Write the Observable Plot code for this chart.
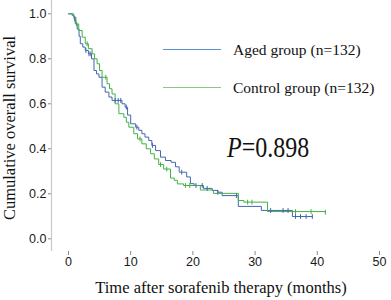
<!DOCTYPE html>
<html>
<head>
<meta charset="utf-8">
<script src="https://cdn.jsdelivr.net/npm/d3@7"></script>
<script src="https://cdn.jsdelivr.net/npm/@observablehq/plot@0.6"></script>
<style>
  html, body { margin: 0; padding: 0; background: #fff; }
  #wrap { position: relative; width: 391px; height: 300px; overflow: hidden; }
  .ov { position: absolute; white-space: nowrap; font-family: "Liberation Serif", "Times New Roman", serif; color: #111; line-height: 1; }
  .lg { position: absolute; height: 0; }
</style>
</head>
<body>
<div id="wrap"></div>
<script>
// ---- Data ----
const groups = ["Aged group (n=132)", "Control group (n=132)"];

const agedTime = [0, 0.6, 0.9, 1.1, 1.4, 1.7, 1.9, 2.3, 2.7, 3.2, 3.7, 4.1, 4.5, 4.9, 5.4, 5.9, 6.5, 7.0, 8.6, 9.1, 9.5, 10.0, 10.8, 11.3, 11.8, 12.3, 12.9, 13.4, 14.0, 14.8, 15.6, 16.5, 17.2, 17.8, 19.0, 19.6, 20.2, 21.7, 23.1, 24.0, 24.7, 27.3, 31.0, 36.0, 39.2];
const agedSurv = [1.0, 0.992, 0.977, 0.955, 0.932, 0.90, 0.867, 0.852, 0.837, 0.822, 0.80, 0.748, 0.733, 0.718, 0.674, 0.652, 0.63, 0.615, 0.60, 0.585, 0.55, 0.511, 0.496, 0.482, 0.467, 0.452, 0.437, 0.415, 0.392, 0.363, 0.348, 0.34, 0.32, 0.296, 0.275, 0.245, 0.237, 0.224, 0.215, 0.207, 0.192, 0.144, 0.126, 0.099, 0.099];

const controlTime = [0, 0.85, 1.2, 1.65, 2.2, 2.7, 3.2, 3.8, 4.2, 4.6, 5.0, 5.4, 6.2, 6.6, 7.0, 7.5, 8.1, 8.9, 9.3, 9.7, 10.5, 11.1, 11.8, 12.5, 13.2, 13.8, 14.5, 15.3, 16.4, 17.0, 17.5, 18.5, 21.2, 23.3, 27.3, 28.2, 32.0, 41.3];
const controlSurv = [1.0, 0.985, 0.955, 0.926, 0.896, 0.867, 0.845, 0.822, 0.80, 0.778, 0.748, 0.718, 0.689, 0.667, 0.644, 0.60, 0.556, 0.54, 0.518, 0.496, 0.467, 0.444, 0.422, 0.40, 0.378, 0.355, 0.33, 0.31, 0.27, 0.26, 0.244, 0.237, 0.217, 0.202, 0.17, 0.163, 0.121, 0.118];

const agedCensor = [1.0, 2.8, 3.3, 3.6, 7.5, 8.0, 8.4, 9.3, 11.0, 13.5, 18.2, 20.5, 21.5, 22.3, 24.0, 27.0, 32.5, 34.5, 35.3, 36.5, 37.3, 38.2, 39.2];
const controlCensor = [1.3, 3.0, 6.0, 11.5, 14.8, 15.8, 18.8, 19.5, 28.8, 29.5, 36.5, 39.0, 41.3];

const xTicks = [0, 10, 20, 30, 40, 50];
const yTicks = [0, 0.2, 0.4, 0.6, 0.8, 1.0];
const pText = "0.898";

// ---- Build tables ----
const agedColor = "#4466b0", controlColor = "#44b044";
const curve = (T, S, g) => T.map((t, i) => ({t, s: S[i], g}));
const stepAt = (T, S, t) => { let v = S[0]; for (let i = 0; i < T.length; i++) if (T[i] <= t) v = S[i]; return v; };
const lines = [...curve(agedTime, agedSurv, groups[0]), ...curve(controlTime, controlSurv, groups[1])];
const censors = [
  ...agedCensor.map(t => ({t, s: stepAt(agedTime, agedSurv, t), g: groups[0]})),
  ...controlCensor.map(t => ({t, s: stepAt(controlTime, controlSurv, t), g: groups[1]}))
];
const vbar = { draw(ctx, size) { const r = Math.sqrt(size / Math.PI); ctx.moveTo(0, -r); ctx.lineTo(0, r); } };
const xDomain = [-2.73, 50];

const chart = Plot.plot({
  width: 391,
  height: 300,
  marginLeft: 51,
  marginRight: 12,
  marginTop: 0,
  marginBottom: 49,
  style: { fontFamily: "'Liberation Sans', Arial, sans-serif", fontSize: "12.5px", color: "#1a1a1a", background: "#fff" },
  x: { domain: xDomain, ticks: xTicks, tickSize: 4, tickPadding: 2, label: null, tickFormat: d3.format("d") },
  y: { domain: [0, 1], range: [238.3, 13.3], ticks: yTicks, tickSize: 3, tickPadding: 2, label: null, tickFormat: d3.format(".1f") },
  color: { domain: groups, range: [agedColor, controlColor] },
  marks: [
    Plot.ruleX([xDomain[0]], { stroke: "#c8c8c8", strokeWidth: 1.2 }),
    Plot.line(lines, { x: "t", y: "s", z: "g", stroke: "g", curve: "step-after", strokeWidth: 1 }),
    Plot.dot(censors, { x: "t", y: "s", stroke: "g", symbol: vbar, r: 2.4, strokeWidth: 1 })
  ]
});
chart.querySelectorAll('[aria-label$="tick"] path, [aria-label$="tick"]').forEach(e => e.setAttribute("stroke", "#888"));

const wrap = document.getElementById("wrap");
wrap.appendChild(chart);

function ov(html, css) {
  const d = document.createElement("div");
  d.className = "ov";
  d.innerHTML = html;
  Object.assign(d.style, css);
  wrap.appendChild(d);
  return d;
}
function lg(color, css) {
  const d = document.createElement("div");
  d.className = "lg";
  Object.assign(d.style, { borderTop: "1.3px solid " + color }, css);
  wrap.appendChild(d);
}
// axis titles
ov("Time after sorafenib therapy (months)", { left: "221px", top: "280px", fontSize: "16.5px", transform: "translateX(-50%)" });
ov("Cumulative overall survival", { left: "10px", top: "128px", fontSize: "16.5px", transform: "translate(-50%,-50%) rotate(-90deg)" });
// legend
lg("#5a8fd0", { left: "163px", top: "48.5px", width: "58px" });
lg("#86cc7c", { left: "163px", top: "86.5px", width: "58px" });
ov(groups[0], { left: "233px", top: "42px", fontSize: "15.5px" });
ov(groups[1], { left: "233px", top: "79.5px", fontSize: "15.5px" });
// p value
ov("<i>P</i>=" + pText, { left: "227px", top: "131.5px", fontSize: "30px", transform: "scaleX(0.8)", transformOrigin: "left top" });
</script>
</body>
</html>
